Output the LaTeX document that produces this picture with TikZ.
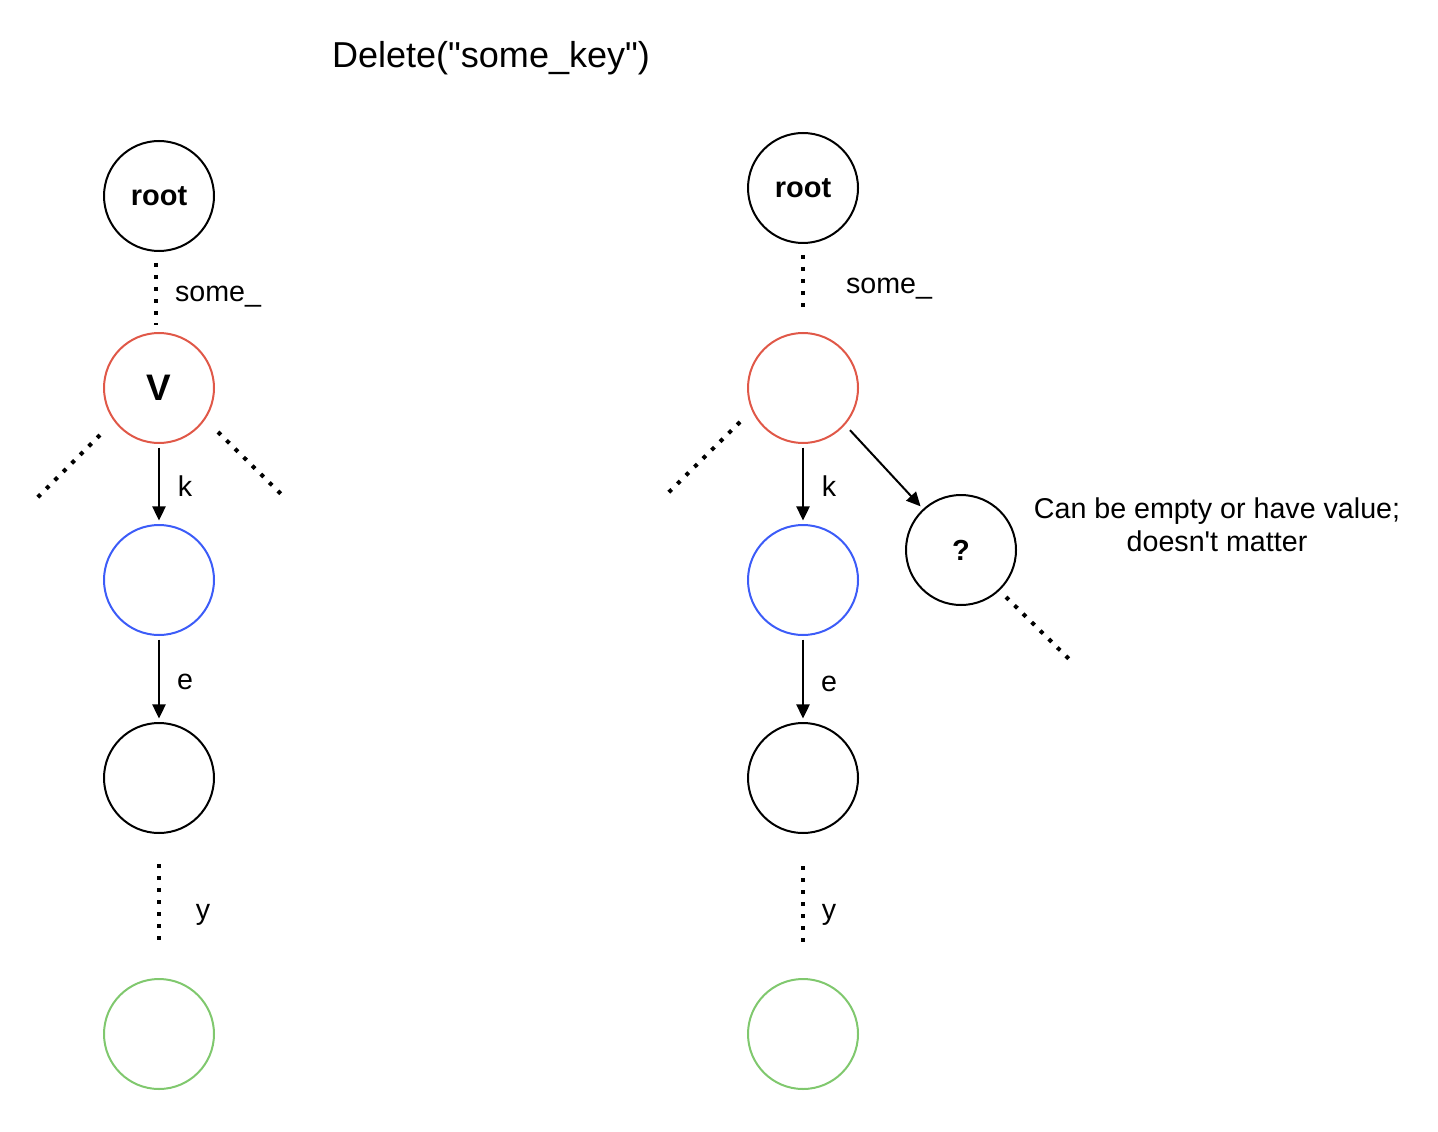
\documentclass[tikz,border=0pt]{standalone}
\usepackage{fontspec}
\setmainfont{Liberation Sans}[Ligatures=TeXOff]
\usetikzlibrary{arrows.meta, calc}

\definecolor{nodered}{RGB}{224,88,72}
\definecolor{nodeblue}{RGB}{60,92,248}
\definecolor{nodegreen}{RGB}{128,200,110}

\tikzset{
	trie/.style={circle, draw, line width=0.04cm, minimum size=2.2cm, inner sep=0pt, font=\fontsize{16.5}{19}\selectfont\bfseries},
	lbl/.style={font=\fontsize{16.3}{19}\selectfont},
	arr/.style={line width=0.04cm, -{Triangle[length=8pt, width=7.5pt]}, shorten >=2pt, shorten <=2pt},
	dotline/.style={line width=0.08cm, dash pattern=on 0.08cm off 0.16cm}
}

\begin{document}
\begin{tikzpicture}
	\useasboundingbox (0,0) rectangle (28.76,-22.64);
	\node (title) at (9.82, -1.16) {\fontsize{20.5}{24}\selectfont Delete("some\_key")};

	% before
	\node[trie] (root) at (3.18, -3.92) {root};
	\node[trie, draw=nodered, font=\fontsize{21}{24}\selectfont\bfseries] (v) at (3.18, -7.76) {V};
	\node[trie, draw=nodeblue] (k) at (3.18, -11.6) {};
	\node[trie] (e) at (3.18, -15.56) {};
	\node[trie, draw=nodegreen] (y) at (3.18, -20.68) {};
	\draw[dotline] ([xshift=-0.06cm, yshift=-0.22cm]root.south) -- ([xshift=-0.06cm, yshift=0.14cm]v.north);
	\draw[arr] (v) -- (k);
	\draw[arr] (k) -- (e);
	\draw[dotline] ([yshift=-0.6cm]e.south) -- ([yshift=0.68cm]y.north);
	\coordinate (vl1) at (2.0, -8.7);
	\coordinate (vl2) at (0.74, -9.96);
	\coordinate (vr1) at (4.36, -8.64);
	\coordinate (vr2) at (5.64, -9.9);
	\draw[dotline] (vl1) -- (vl2);
	\draw[dotline] (vr1) -- (vr2);
	\node[lbl] (s1) at (4.36, -5.94) {some\_};
	\node[lbl] (k1) at (3.7, -9.72) {k};
	\node[lbl] (e1) at (3.7, -13.64) {e};
	\node[lbl] (y1) at (4.06, -18.3) {y};

	% after
	\node[trie] (root2) at (16.06, -3.76) {root};
	\node[trie, draw=nodered] (v2) at (16.06, -7.76) {};
	\node[trie, draw=nodeblue] (k2) at (16.06, -11.6) {};
	\node[trie] (e2) at (16.06, -15.56) {};
	\node[trie, draw=nodegreen] (y2) at (16.06, -20.68) {};
	\node[trie] (q) at (19.22, -11.0) {?};
	\draw[dotline] ([yshift=-0.22cm]root2.south) -- ([yshift=0.34cm]v2.north);
	\draw[arr] (v2) -- (k2);
	\draw[arr] ([xshift=0.1cm]v2.south east) -- (q);
	\draw[arr] (k2) -- (e2);
	\draw[dotline] ([yshift=-0.64cm]e2.south) -- ([yshift=0.68cm]y2.north);
	\coordinate (vl3) at (14.8, -8.44);
	\coordinate (vl4) at (13.3, -9.92);
	\coordinate (q1) at (20.12, -11.94);
	\coordinate (q2) at (21.4, -13.2);
	\draw[dotline] (vl3) -- (vl4);
	\draw[dotline] (q1) -- (q2);
	\node[lbl] (s2) at (17.78, -5.78) {some\_};
	\node[lbl] (k3) at (16.58, -9.72) {k};
	\node[lbl] (e3) at (16.58, -13.68) {e};
	\node[lbl] (y3) at (16.58, -18.3) {y};
	\node[lbl, align=center] (note) at (24.34, -10.5) {Can be empty or have value;\\doesn't matter};
\end{tikzpicture}
\end{document}
